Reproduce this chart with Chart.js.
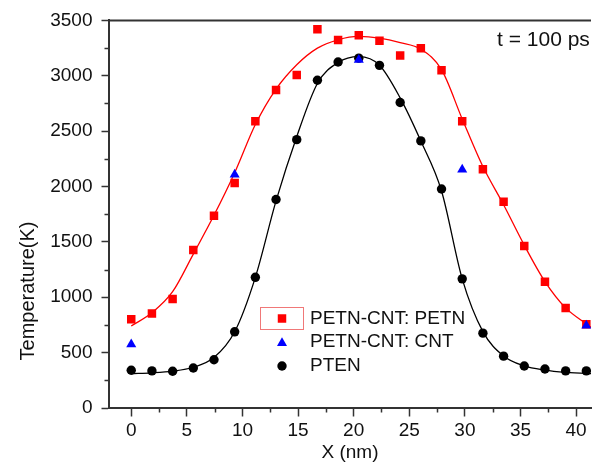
<!DOCTYPE html>
<html>
<head>
<meta charset="utf-8">
<script src="https://cdn.jsdelivr.net/npm/chart.js@4.4.0/dist/chart.umd.min.js"></script>
<style>
  html, body { margin: 0; padding: 0; background: #fff; }
  #wrap { width: 597px; height: 467px; }
</style>
</head>
<body>
<div id="wrap"><canvas id="chart" width="597" height="467"></canvas></div>
<script>
const AXIS = '#333333';
const TEXT = '#111111';
const FONT = '"Liberation Sans", Arial, sans-serif';

// sample positions along X (nm)
const xNm = [0, 1.86, 3.72, 5.58, 7.44, 9.3, 11.16, 13.02, 14.88, 16.74, 18.6, 20.46,
  22.32, 24.18, 26.04, 27.9, 29.76, 31.62, 33.48, 35.34, 37.2, 39.06, 40.92];
// PETN-CNT: PETN (red squares)
const petnT = [801, 854, 984, 1427, 1735, 2032, 2590, 2871, 3008, 3420, 3322, 3366,
  3316, 3183, 3248, 3049, 2590, 2156, 1862, 1462, 1139, 904, 756];
// PTEN (black circles)
const ptenT = [341, 335, 332, 361, 436, 688, 1180, 1883, 2423, 2960, 3124, 3159,
  3094, 2759, 2412, 1978, 1166, 676, 468, 379, 352, 335, 335];
// PETN-CNT: CNT (blue triangles)
const cntX = [0, 9.3, 20.46, 29.76, 40.92];
const cntT = [575, 2108, 3144, 2153, 744];

// fitted curves
const fitX = [0, 1.86, 3.72, 5.58, 7.44, 9.3, 11.16, 13.02, 14.88, 16.74, 18.6, 20.46,
  22.32, 24.18, 26.04, 27.9, 29.76, 31.62, 33.48, 35.34, 37.2, 39.06, 40.92, 41.4];
const petnFitT = [741, 860, 1050, 1390, 1740, 2125, 2560, 2880, 3100, 3250, 3325, 3355,
  3340, 3300, 3240, 3055, 2610, 2180, 1835, 1470, 1142, 904, 760, 725];
const ptenFitT = [311, 318, 333, 368, 455, 688, 1180, 1870, 2450, 2930, 3120, 3172,
  3095, 2800, 2410, 1960, 1166, 690, 470, 380, 342, 322, 312, 311];

const xMinor = [2.5, 7.5, 12.5, 17.5, 22.5, 27.5, 32.5, 37.5];
const yMinor = [250, 750, 1250, 1750, 2250, 2750, 3250];
const seriesNames = ['PETN-CNT: PETN', 'PETN-CNT: CNT', 'PTEN'];

function pts(xs, ys) {
  return xs.map((x, i) => ({ x: x, y: ys[i] }));
}

const markerStyles = [
  { pointStyle: 'rect', radius: 6, rotation: 0, borderWidth: 0, color: '#ff0000' },
  { pointStyle: 'triangle', radius: 5.8, rotation: 0, borderWidth: 0, color: '#0000ff' },
  { pointStyle: 'circle', radius: 4.7, rotation: 0, borderWidth: 0, color: '#000000' },
];

const framePlugin = {
  id: 'frame',
  afterDraw(chart) {
    const { ctx, chartArea: a, scales } = chart;
    const x = scales.x, y = scales.y;
    ctx.save();
    ctx.strokeStyle = AXIS;
    ctx.lineWidth = 2;
    ctx.beginPath();
    ctx.moveTo(a.left - 1, a.top);
    ctx.lineTo(a.right, a.top);
    ctx.stroke();

    ctx.lineWidth = 1.5;
    ctx.beginPath();
    yMinor.forEach(v => {
      const py = Math.round(y.getPixelForValue(v)) + 0.5;
      ctx.moveTo(a.left, py);
      ctx.lineTo(a.left - 4.5, py);
    });
    xMinor.forEach(v => {
      const px = Math.round(x.getPixelForValue(v)) + 0.5;
      ctx.moveTo(px, a.bottom);
      ctx.lineTo(px, a.bottom + 4.5);
    });
    ctx.stroke();

    // y title
    ctx.fillStyle = TEXT;
    ctx.font = '20px ' + FONT;
    ctx.textAlign = 'center';
    ctx.textBaseline = 'middle';
    ctx.save();
    ctx.translate(28, 291);
    ctx.rotate(-Math.PI / 2);
    ctx.fillText('Temperature(K)', 0, 0);
    ctx.restore();

    // annotation
    ctx.textAlign = 'left';
    ctx.font = '21px ' + FONT;
    ctx.fillText('t = 100 ps', 497, 40);

    // legend
    ctx.font = '19px ' + FONT;
    ctx.strokeStyle = '#f07878';
    ctx.lineWidth = 1;
    ctx.strokeRect(260.5, 307.5, 43, 22);
    const rows = [318.5, 341.5, 366];
    seriesNames.forEach((name, i) => {
      const st = markerStyles[i];
      ctx.fillStyle = st.color;
      Chart.helpers.drawPoint(ctx, st, 282, rows[i] + (i === 1 ? 1.5 : 0));
      ctx.fillStyle = TEXT;
      ctx.fillText(name, 310, rows[i]);
    });
    ctx.restore();
  }
};

new Chart(document.getElementById('chart'), {
  type: 'scatter',
  data: {
    datasets: [
      {
        label: seriesNames[1],
        data: pts(cntX, cntT),
        pointStyle: 'triangle',
        pointRadius: markerStyles[1].radius,
        pointBorderWidth: 0,
        backgroundColor: '#0000ff',
        borderColor: '#0000ff',
        order: 0,
      },
      {
        label: seriesNames[0],
        data: pts(xNm, petnT),
        pointStyle: 'rect',
        pointRadius: markerStyles[0].radius,
        pointBorderWidth: 0,
        backgroundColor: '#ff0000',
        borderColor: '#ff0000',
        order: 1,
      },
      {
        label: seriesNames[2],
        data: pts(xNm, ptenT),
        pointStyle: 'circle',
        pointRadius: markerStyles[2].radius,
        pointBorderWidth: 0,
        backgroundColor: '#000000',
        borderColor: '#000000',
        order: 1,
      },
      {
        label: 'PETN fit',
        data: pts(fitX, petnFitT),
        showLine: true,
        pointRadius: 0,
        borderColor: '#ff0000',
        borderWidth: 1.3,
        cubicInterpolationMode: 'monotone',
        order: 2,
      },
      {
        label: 'PTEN fit',
        data: pts(fitX, ptenFitT),
        showLine: true,
        pointRadius: 0,
        borderColor: '#000000',
        borderWidth: 1.3,
        cubicInterpolationMode: 'monotone',
        order: 2,
      },
    ],
  },
  options: {
    responsive: false,
    animation: false,
    layout: { padding: { top: 15, right: 0, left: 0, bottom: 0 } },
    plugins: { legend: { display: false }, tooltip: { enabled: false } },
    scales: {
      x: {
        type: 'linear',
        min: -2,
        max: 41.34,
        afterFit: s => { s.height = 59; },
        ticks: {
          stepSize: 5,
          includeBounds: false,
          padding: 3,
          color: TEXT,
          font: { family: FONT, size: 19 },
          callback: v => String(v),
        },
        grid: { drawOnChartArea: false, tickLength: 8.5, tickWidth: 1.5, tickColor: AXIS },
        border: { color: AXIS, width: 2 },
        title: {
          display: true,
          text: 'X (nm)',
          color: TEXT,
          font: { family: FONT, size: 19 },
          padding: { top: 0, bottom: 2.5 },
        },
      },
      y: {
        min: 0,
        max: 3500,
        afterFit: s => { s.width = 109; },
        ticks: {
          stepSize: 500,
          padding: 9,
          color: TEXT,
          font: { family: FONT, size: 19 },
          callback: v => String(v),
        },
        grid: { drawOnChartArea: false, tickLength: 7.5, tickWidth: 1.5, tickColor: AXIS },
        border: { color: AXIS, width: 2 },
      },
    },
  },
  plugins: [framePlugin],
});
</script>
</body>
</html>
